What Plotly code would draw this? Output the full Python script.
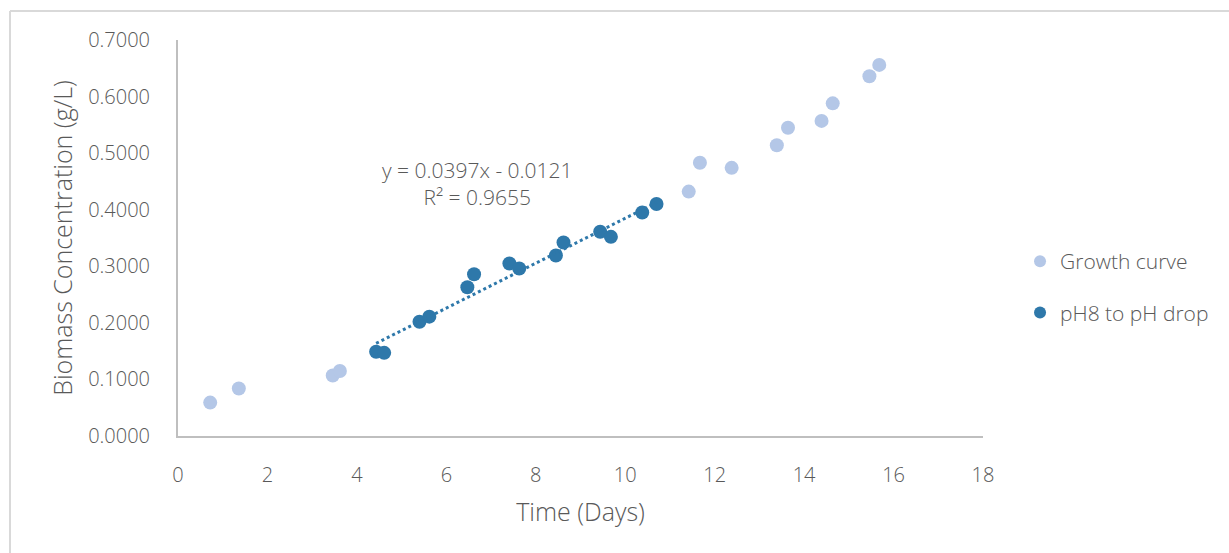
import plotly.graph_objects as go

# Growth curve measurements (time in days, biomass in g/L)
growth_days = [0.72, 1.36, 3.46, 3.62, 11.42, 11.67, 12.38, 13.39, 13.64, 14.39, 14.64, 15.46, 15.68]
growth_biomass = [0.059, 0.084, 0.107, 0.115, 0.432, 0.483, 0.474, 0.514, 0.545, 0.557, 0.588, 0.636, 0.656]

# pH8 to pH drop run
ph_days = [4.43, 4.61, 5.40, 5.62, 6.47, 6.62, 7.41, 7.63, 8.45, 8.62, 9.44, 9.68, 10.38, 10.70]
ph_biomass = [0.149, 0.147, 0.202, 0.211, 0.263, 0.286, 0.305, 0.296, 0.319, 0.342, 0.361, 0.352, 0.395, 0.410]

# Linear trendline of the pH run
slope = 0.0397
intercept = -0.0121
r_squared = 0.9655

x_ticks = [0, 2, 4, 6, 8, 10, 12, 14, 16, 18]
y_ticks = [0.0, 0.1, 0.2, 0.3, 0.4, 0.5, 0.6, 0.7]

LIGHT = "#B4C7E7"
DARK = "#2E78AA"
TEXT = "#595959"
AXIS = "#BFBFBF"
FONT = "Open Sans"

trend_x = [min(ph_days), max(ph_days)]
trend_y = [slope * x + intercept for x in trend_x]

fig = go.Figure()
fig.add_trace(go.Scatter(
    x=growth_days, y=growth_biomass, mode="markers", name="Growth curve",
    marker=dict(color=LIGHT, size=14, line=dict(width=0)),
    legendgroup="g1",
))
fig.add_trace(go.Scatter(
    x=ph_days, y=ph_biomass, mode="markers", name="pH8 to pH drop",
    marker=dict(color=DARK, size=14, line=dict(width=0)),
    legendgroup="g2",
))
fig.add_trace(go.Scatter(
    x=trend_x, y=trend_y, mode="lines", showlegend=False,
    line=dict(color=DARK, width=3, dash="dot"),
))

fig.add_annotation(
    x=6.69, y=0.447, xref="x", yref="y", showarrow=False,
    text=f"y = {slope}x - {abs(intercept)}<br>R² = {r_squared}",
    font=dict(family=FONT, size=21, color=TEXT, weight=300),
    align="center",
)

# Outer chart frame (left and top edges visible)
fig.add_shape(type="line", xref="paper", yref="paper",
              x0=-0.2087, x1=-0.2087, y0=1.0732, y1=-0.30,
              line=dict(color="#D9D9D9", width=2))
fig.add_shape(type="line", xref="paper", yref="paper",
              x0=-0.2087, x1=1.31, y0=1.0732, y1=1.0732,
              line=dict(color="#D9D9D9", width=2))

fig.update_layout(
    width=1229, height=553,
    margin=dict(l=178, r=246, t=40, b=117),
    paper_bgcolor="white", plot_bgcolor="white",
    font=dict(family=FONT, color=TEXT, weight=300),
    showlegend=True,
    legend=dict(
        x=1.046, y=0.376, xanchor="left", yanchor="middle",
        font=dict(family=FONT, size=21, color=TEXT, weight=300),
        tracegroupgap=21, itemsizing="constant",
        bgcolor="rgba(0,0,0,0)",
    ),
    xaxis=dict(
        range=[0, 18], tickvals=x_ticks, ticktext=[str(v) for v in x_ticks],
        showgrid=False, zeroline=False, showline=True, linecolor=AXIS, linewidth=2,
        ticks="", tickfont=dict(family=FONT, size=20, color=TEXT, weight=300),
        ticklabelstandoff=20,
        title=dict(text="Time (Days)", font=dict(family=FONT, size=25, color=TEXT, weight=300), standoff=16),
    ),
    yaxis=dict(
        range=[0, 0.7], tickvals=y_ticks, tickformat=".4f",
        showgrid=False, zeroline=False, showline=True, linecolor=AXIS, linewidth=2,
        ticks="", tickfont=dict(family=FONT, size=20, color=TEXT, weight=300),
        ticklabelstandoff=22,
        title=dict(text="Biomass Concentration (g/L)", font=dict(family=FONT, size=25, color=TEXT, weight=300), standoff=8),
    ),
)

fig.write_html("out.html")
